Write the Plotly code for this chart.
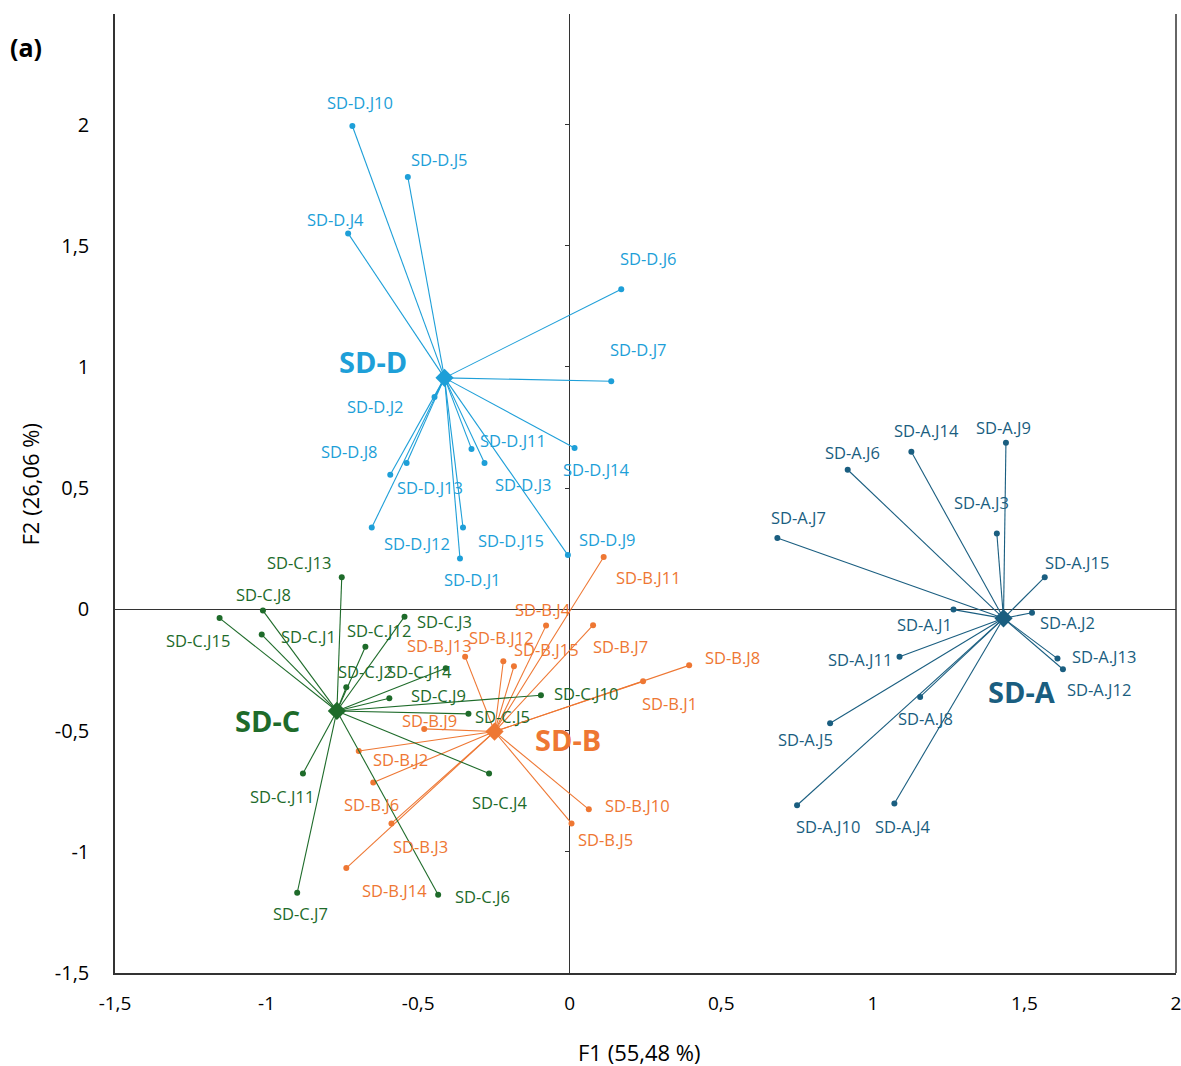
import plotly.graph_objects as go

# ---------------- data ----------------
groups = ["SD-A", "SD-B", "SD-C", "SD-D"]
centroid_x = [1.431, -0.248, -0.768, -0.413]
centroid_y = [-0.037, -0.504, -0.419, 0.955]

days = ["J1", "J2", "J3", "J4", "J5", "J6", "J7", "J8", "J9", "J10", "J11", "J12", "J13", "J14", "J15"]

sda_x = [1.266, 1.525, 1.409, 1.071, 0.859, 0.917, 0.685, 1.156, 1.439, 0.750, 1.088, 1.627, 1.609, 1.127, 1.567]
sda_y = [-0.001, -0.014, 0.313, -0.801, -0.470, 0.576, 0.294, -0.361, 0.687, -0.808, -0.195, -0.247, -0.203, 0.650, 0.133]

sdb_x = [0.242, -0.696, -0.588, -0.078, 0.006, -0.648, 0.077, 0.394, -0.480, 0.063, 0.112, -0.219, -0.345, -0.737, -0.184]
sdb_y = [-0.297, -0.584, -0.883, -0.067, -0.883, -0.714, -0.065, -0.231, -0.493, -0.825, 0.216, -0.214, -0.195, -1.067, -0.235]

sdc_x = [-1.016, -0.737, -0.545, -0.266, -0.334, -0.434, -0.899, -1.012, -0.595, -0.095, -0.880, -0.674, -0.752, -0.409, -1.155]
sdc_y = [-0.104, -0.321, -0.030, -0.677, -0.431, -1.177, -1.169, -0.005, -0.367, -0.354, -0.677, -0.154, 0.133, -0.243, -0.036]

sdd_x = [-0.362, -0.446, -0.281, -0.731, -0.534, 0.170, 0.137, -0.592, -0.006, -0.717, -0.324, -0.653, -0.538, 0.016, -0.352]
sdd_y = [0.210, 0.876, 0.604, 1.551, 1.784, 1.321, 0.941, 0.555, 0.224, 1.994, 0.662, 0.338, 0.604, 0.666, 0.338]

x_tickvals = [-1.5, -1, -0.5, 0, 0.5, 1, 1.5, 2]
x_ticktext = ["-1,5", "-1", "-0,5", "0", "0,5", "1", "1,5", "2"]
y_tickvals = [-1.5, -1, -0.5, 0, 0.5, 1, 1.5, 2]
y_ticktext = ["-1,5", "-1", "-0,5", "0", "0,5", "1", "1,5", "2"]

x_title = "F1 (55,48 %)"
y_title = "F2 (26,06 %)"
panel_label = "(a)"

# ---------------- styles ----------------
colors = {"SD-A": "#1A5E80", "SD-B": "#EE7733", "SD-C": "#1E6B2A", "SD-D": "#1E9FD8"}

# label offsets in pixels (dx right, dy down) per day J1..J15
label_off = {
    "SD-A": [(-29, 15), (35, 10), (-15, -31), (9, 23), (-25, 16), (5, -17), (21, -21), (5, 22),
             (-2, -15), (31, 21), (-40, 3), (36, 20), (47, -2), (15, -21), (32, -15)],
    "SD-B": [(26, 22), (42, 9), (29, 23), (-3, -16), (34, 16), (-2, 22), (27, 21), (43, -8),
             (5, -8), (49, -4), (45, 20), (-2, -24), (-26, -11), (48, 22), (33, -17)],
    "SD-C": [(47, 2), (19, -16), (40, 5), (10, 29), (34, 3), (44, 2), (3, 21), (1, -16),
             (49, -3), (45, -2), (-21, 23), (14, -16), (-43, -15), (-26, 3), (-22, 22)],
    "SD-D": [(13, 21), (-59, 9), (39, 22), (-13, -14), (32, -17), (27, -31), (27, -32), (-41, -23),
             (40, -16), (8, -24), (41, -8), (45, 16), (23, 25), (22, 22), (48, 13)],
}
big_off = {"SD-A": (18, 73), "SD-B": (73, 8), "SD-C": (-69, 10), "SD-D": (-72, -16)}

point_data = {"SD-A": (sda_x, sda_y), "SD-B": (sdb_x, sdb_y), "SD-C": (sdc_x, sdc_y), "SD-D": (sdd_x, sdd_y)}

FONT = "Open Sans"
fig = go.Figure()
annotations = []

for gi, g in enumerate(groups):
    cx, cy = centroid_x[gi], centroid_y[gi]
    px, py = point_data[g]
    lx, ly = [], []
    for xv, yv in zip(px, py):
        lx += [cx, xv, None]
        ly += [cy, yv, None]
    col = colors[g]
    fig.add_trace(go.Scatter(x=lx, y=ly, mode="lines", line=dict(color=col, width=1.1),
                             hoverinfo="skip", showlegend=False))
    fig.add_trace(go.Scatter(x=px, y=py, mode="markers", marker=dict(color=col, size=6),
                             text=[f"{g}.{d}" for d in days], showlegend=False))
    fig.add_trace(go.Scatter(x=[cx], y=[cy], mode="markers",
                             marker=dict(color=col, size=14, symbol="diamond"),
                             text=[g], showlegend=False))
    for d, xv, yv, (dx, dy) in zip(days, px, py, label_off[g]):
        annotations.append(dict(x=xv, y=yv, text=f"{g}.{d}", showarrow=False,
                                xshift=dx, yshift=-dy,
                                font=dict(family=FONT, size=16.5, color=col)))
    bdx, bdy = big_off[g]
    annotations.append(dict(x=cx, y=cy, text=f"<b>{g}</b>", showarrow=False,
                            xshift=bdx, yshift=-bdy,
                            font=dict(family=FONT, size=29, color=col)))

annotations.append(dict(xref="paper", yref="paper", x=-0.1008, y=0.9656, text=f"<b>{panel_label}</b>",
                        showarrow=False, xanchor="left", yanchor="middle",
                        font=dict(family=FONT, size=25, color="black")))
annotations.append(dict(xref="paper", yref="paper", x=0.4948, y=-0.0824, text=x_title,
                        showarrow=False, xanchor="center", yanchor="middle",
                        font=dict(family=FONT, size=22, color="black")))
annotations.append(dict(xref="paper", yref="paper", x=-0.0801, y=0.5094, text=y_title,
                        showarrow=False, xanchor="center", yanchor="middle", textangle=-90,
                        font=dict(family=FONT, size=22, color="black")))

ymin, ymax = -1.5, 2.456
xmin, xmax = -1.5, 2.0

fig.update_layout(
    width=1181, height=1066, autosize=False,
    margin=dict(l=115, r=5, t=14, b=93),
    plot_bgcolor="white", paper_bgcolor="white",
    showlegend=False,
    annotations=annotations,
    xaxis=dict(range=[xmin, xmax], tickvals=x_tickvals, ticktext=x_ticktext, automargin=False,
               showgrid=False, zeroline=True, zerolinecolor="#333333", zerolinewidth=1,
               showline=True, linecolor="#333333", linewidth=1.5, ticks="",
               ticklabeloverflow="allow", ticklabelstandoff=12,
               tickfont=dict(family=FONT, size=19, color="black")),
    yaxis=dict(range=[ymin, ymax], tickvals=y_tickvals, ticktext=y_ticktext, automargin=False,
               showgrid=False, zeroline=True, zerolinecolor="#333333", zerolinewidth=1,
               showline=True, linecolor="#333333", linewidth=1.5, ticks="",
               tickfont=dict(family=FONT, size=20, color="black"), ticklabelstandoff=20),
    yaxis2=dict(range=[ymin, ymax], tickvals=y_tickvals, overlaying="y", anchor="free",
                position=(0 - xmin) / (xmax - xmin), side="left", showticklabels=False,
                ticks="outside", ticklen=5, tickcolor="#333333", showgrid=False,
                zeroline=False, showline=False, automargin=False),
    shapes=[dict(type="line", xref="paper", yref="paper", x0=1, x1=1, y0=0, y1=1,
                 line=dict(color="#333333", width=1.5))],
)
# dummy trace so yaxis2 is drawn
fig.add_trace(go.Scatter(x=[None], y=[None], yaxis="y2", showlegend=False, hoverinfo="skip"))

# remove the default page margin so the figure fills the window exactly (no scrollbars)
fig.write_html("out.html", config={"displayModeBar": False},
               post_script="document.body.style.margin='0';document.body.style.overflow='hidden';")
